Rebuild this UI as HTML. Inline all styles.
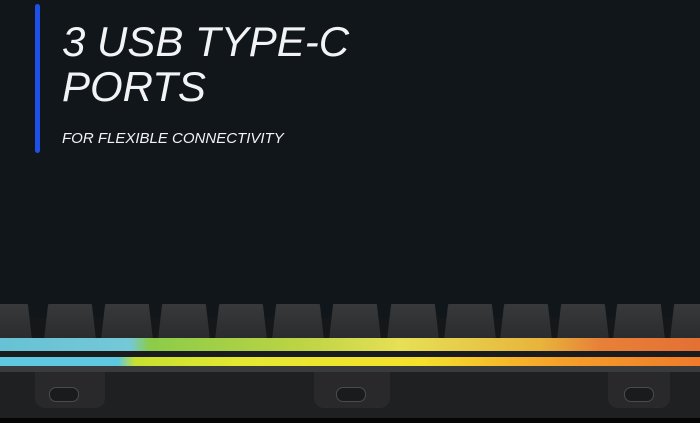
<!DOCTYPE html>
<html><head><style>
body{margin:0;width:700px;height:423px;background:#11161b;position:relative;overflow:hidden;font-family:"Liberation Sans",sans-serif}
.bar{position:absolute;left:35px;top:4px;width:5px;height:149px;background:#1e4fe8;border-radius:3px}
.t{position:absolute;left:62px;color:#f2f3f4;font-style:italic;font-weight:400}
.k{position:absolute;top:304px;width:52px;height:36px;background:linear-gradient(#38393b,#2a2b2d);border-radius:6px 6px 0 0;clip-path:polygon(8% 0,92% 0,100% 100%,0 100%)}
.tab{position:absolute;top:372px;height:36px;background:#29292b;border-radius:0 0 10px 10px}
.pill{position:absolute;top:387px;width:28px;height:13px;border-radius:7px;background:#1a1b1c;border:1px solid #4a4b4d}
</style></head><body>
<div class="bar"></div>
<div class="t" style="top:18px;font-size:42px">3 USB TYPE-C</div>
<div class="t" style="top:63px;font-size:42px">PORTS</div>
<div class="t" style="top:130px;font-size:15px">FOR FLEXIBLE CONNECTIVITY</div>
<div style="position:absolute;left:0;top:318px;width:700px;height:22px;background:#161719"></div>
<div class="k" style="left:-20px"></div>
<div class="k" style="left:44px"></div><div class="k" style="left:101px"></div><div class="k" style="left:158px"></div>
<div class="k" style="left:215px"></div><div class="k" style="left:272px"></div><div class="k" style="left:329px"></div>
<div class="k" style="left:387px"></div><div class="k" style="left:444px"></div><div class="k" style="left:500px"></div>
<div class="k" style="left:557px"></div><div class="k" style="left:613px"></div><div class="k" style="left:670px"></div>
<div style="position:absolute;left:0;top:338px;width:700px;height:13px;background:linear-gradient(90deg,#66c2d4 0,#74c8d8 130px,#8ccc48 150px,#bcd444 300px,#e6e056 400px,#e8b43c 540px,#e88038 600px,#e47034 700px)"></div>
<div style="position:absolute;left:0;top:351px;width:700px;height:6px;background:#1a1b1d"></div>
<div style="position:absolute;left:0;top:357px;width:700px;height:9px;background:linear-gradient(90deg,#5ec8e0 0,#5ec8e0 118px,#c8e030 135px,#e6e830 250px,#f5e02c 420px,#f6a02a 560px,#f07a2a 700px)"></div>
<div style="position:absolute;left:0;top:366px;width:700px;height:6px;background:#3a3b3d"></div>
<div style="position:absolute;left:0;top:372px;width:700px;height:46px;background:#1f2022"></div>
<div style="position:absolute;left:0;top:418px;width:700px;height:5px;background:#050505"></div>
<div class="tab" style="left:35px;width:70px"></div>
<div class="tab" style="left:314px;width:76px"></div>
<div class="tab" style="left:608px;width:62px"></div>
<div class="pill" style="left:49px"></div>
<div class="pill" style="left:336px"></div>
<div class="pill" style="left:624px"></div>
</body></html>
